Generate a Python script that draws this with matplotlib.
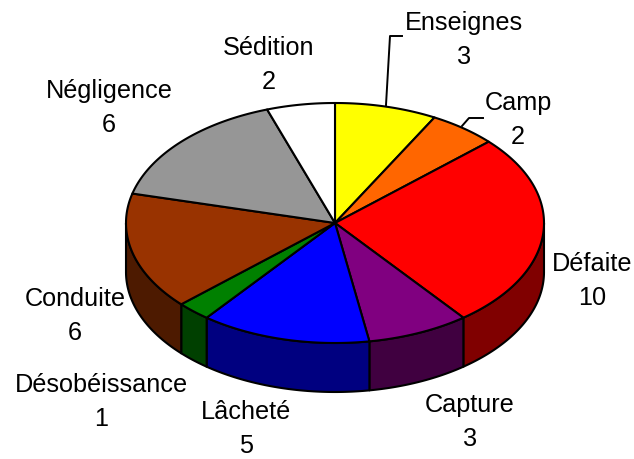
import numpy as np
import matplotlib
matplotlib.use("Agg")
import matplotlib.pyplot as plt

labels = ["Enseignes", "Camp", "Défaite", "Capture", "Lâcheté",
          "Désobéissance", "Conduite", "Négligence", "Sédition"]
values = [3, 2, 10, 3, 5, 1, 6, 6, 2]
top_colors = ["#FFFF00", "#FF6600", "#FF0000", "#800080", "#0000FF",
              "#008000", "#993300", "#969696", "#FFFFFF"]
side_colors = ["#808000", "#803300", "#800000", "#400040", "#000080",
               "#004000", "#4D1A00", "#4B4B4B", "#808080"]

# layout, in pixels of the 634x460 picture
cx, cy = 335, 224
rx, ry = 209, 120
depth = 49
label_pos = [(464, 40), (518, 120), (592, 281), (470, 422), (246, 429),
             (101, 402), (75, 316), (109, 108), (269, 65)]
leaders = [([386, 390, 402], [106, 37, 37]), ([462, 469, 483], [127, 119, 119])]

plt.rcParams["font.family"] = ["Liberation Sans", "DejaVu Sans"]
fig = plt.figure(figsize=(6.34, 4.6), dpi=100)
ax = fig.add_axes([0, 0, 1, 1])
ax.set_xlim(0, 634)
ax.set_ylim(460, 0)
ax.axis("off")


def rim(a0, a1, drop=0):
    t = np.radians(np.linspace(a0, a1, max(int(abs(a1 - a0)) * 2, 2)))
    return cx + rx * np.sin(t), cy - ry * np.cos(t) + drop


edges = np.cumsum([0] + values) / sum(values) * 360

# outer wall, only the front half of the rim shows
for i in range(len(values)):
    a0, a1 = max(edges[i], 90), min(edges[i + 1], 270)
    if a0 >= a1:
        continue
    x, y = rim(a0, a1)
    x2, y2 = rim(a1, a0, depth)
    ax.fill(np.r_[x, x2], np.r_[y, y2], fc=side_colors[i], ec="black",
            lw=1.5, joinstyle="round", zorder=2)

# top of the pie
for i in range(len(values)):
    x, y = rim(edges[i], edges[i + 1])
    ax.fill(np.r_[cx, x], np.r_[cy, y], fc=top_colors[i], ec="black",
            lw=1.5, joinstyle="round", zorder=3)

for lx, ly in leaders:
    ax.plot(lx, ly, color="black", lw=1.4, zorder=1)

for name, val, (tx, ty) in zip(labels, values, label_pos):
    ax.text(tx, ty, f"{name}\n{val}", ha="center", va="center",
            fontsize=18.2, linespacing=1.55, color="black")

fig.savefig("out.png", dpi=100)
